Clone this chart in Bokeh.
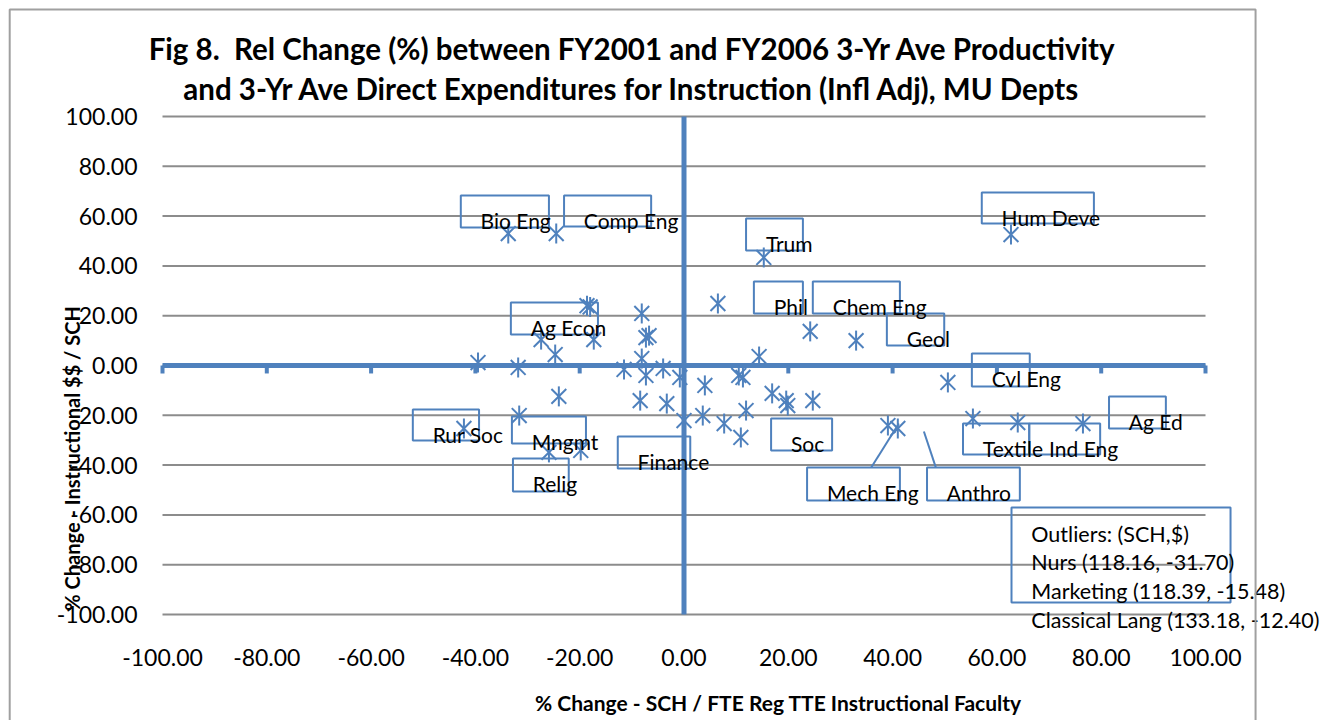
import math
from bokeh.plotting import figure
from bokeh.models import FixedTicker, NumeralTickFormatter, Label, BoxAnnotation, Range1d
from bokeh.embed import file_html
from bokeh.resources import INLINE
from bokeh.core.properties import value

# ---------------- data ----------------
sch_change = [-33.7, -24.5, 15.3, 62.7, -18.6, -18.0, -27.4, -17.3, -24.7, -39.5,
              -31.8, -24.0, -31.6, -42.2, -25.9, -19.8, 6.5, -8.1, -7.3, -6.7,
              -8.1, -11.5, -7.3, -4.0, -0.8, 4.0, 10.5, 11.3, 14.4, -8.4,
              -3.3, 0.0, 3.6, 7.7, 11.9, 10.9, 24.2, 33.0, 16.9, 19.6,
              19.9, 24.7, 50.6, 39.1, 41.0, 55.4, 64.0, 76.5]
dollar_change = [53.0, 53.0, 43.4, 52.6, 24.0, 23.5, 10.4, 10.4, 4.4, 1.2,
                 -0.8, -12.4, -20.1, -25.3, -34.9, -34.1, 24.9, 20.9, 11.2, 12.0,
                 2.8, -1.6, -4.0, -1.2, -4.8, -8.0, -4.0, -4.8, 3.6, -14.1,
                 -15.3, -22.1, -20.1, -23.3, -18.1, -28.9, 13.7, 10.0, -11.2, -14.1,
                 -16.1, -14.1, -6.8, -24.1, -25.3, -21.3, -22.9, -23.3]

label_names = ["Bio Eng", "Comp Eng", "Trum", "Hum Deve", "Phil", "Chem Eng", "Geol",
               "Cvl Eng", "Ag Ed", "Textile", "Ind Eng", "Anthro", "Mech Eng", "Soc",
               "Ag Econ", "Rur Soc", "Mngmt", "Relig", "Finance"]
# callout box layout (data units)
label_left = [-42.8, -23.0, 11.9, 57.1, 13.4, 24.7, 38.9, 55.2, 81.5, 53.5, 66.2, 46.6,
              23.6, 16.7, -33.2, -52.0, -33.0, -32.8, -12.7]
label_right = [-25.9, -6.3, 22.8, 78.6, 22.8, 41.4, 49.9, 66.3, 92.4, 66.2, 79.8, 64.4,
               41.4, 28.4, -16.5, -39.3, -18.8, -22.1, 1.2]
label_top = [68.3, 68.3, 59.0, 69.5, 33.7, 33.7, 20.9, 4.8, -12.4, -23.3, -23.3, -41.0,
             -41.0, -21.3, 25.3, -17.7, -20.5, -37.3, -28.5]
label_bottom = [55.4, 55.8, 46.2, 57.0, 20.9, 20.9, 8.0, -8.4, -25.3, -35.7, -35.7, -54.2,
                -54.2, -34.1, 12.4, -30.1, -31.3, -50.6, -41.4]

leader_x0 = [35.9, 48.3]
leader_y0 = [-41.0, -41.0]
leader_x1 = [41.2, 46.0]
leader_y1 = [-23.3, -26.5]

outlier_lines = ["Outliers: (SCH,$)", "Nurs (118.16, -31.70)",
                 "Marketing (118.39, -15.48)", "Classical Lang (133.18, -12.40)"]

axis_ticks = [-100, -80, -60, -40, -20, 0, 20, 40, 60, 80, 100]

title_lines = ["Fig 8.\u00a0 Rel Change (%) between FY2001 and FY2006 3-Yr Ave Productivity",
               "and 3-Yr Ave Direct Expenditures for Instruction (Infl Adj), MU Depts"]
x_title = "% Change - SCH / FTE Reg TTE Instructional Faculty"
y_title = "% Change - Instructional $$ / SCH"

# ---------------- styles / layout ----------------
BLUE = "#4F81BD"
GRID = "#8C8C8C"
FONT = "Lato"
W, H = 1334, 720
X0PX, XSCALE = 683.5, 5.215     # pixel of x=0, pixels per unit
Y0PX, YSCALE = 365.0, 2.49      # pixel of y=0, pixels per unit

p = figure(width=W, height=H,
           x_range=Range1d(-X0PX / XSCALE, (W - X0PX) / XSCALE),
           y_range=Range1d((Y0PX - H) / YSCALE, Y0PX / YSCALE),
           output_backend="svg", toolbar_location=None,
           min_border_left=0, min_border_right=0, min_border_top=0, min_border_bottom=0)
p.outline_line_color = None
p.background_fill_color = "white"
p.border_fill_color = "white"
p.xgrid.visible = False
p.ygrid.visible = False

lo, hi = axis_ticks[0], axis_ticks[-1]
for ax in (p.xaxis[0], p.yaxis[0]):
    ax.fixed_location = lo
    ax.ticker = FixedTicker(ticks=axis_ticks)
    ax.formatter = NumeralTickFormatter(format="0.00")
    ax.axis_line_color = None
    ax.major_tick_line_color = None
    ax.minor_tick_line_color = None
    ax.major_tick_in = 0
    ax.major_tick_out = 0
    ax.major_label_text_font = FONT
    ax.major_label_text_font_size = "23px"
    ax.major_label_text_color = "black"
p.xaxis.major_label_standoff = 34
p.yaxis.major_label_standoff = 25

# horizontal gridlines
p.segment(x0=[lo] * len(axis_ticks), y0=axis_ticks, x1=[hi] * len(axis_ticks), y1=axis_ticks,
          line_color=GRID, line_width=2)

# blue axes through the origin, with tick marks on the horizontal one
p.segment(x0=[0, lo], y0=[lo, 0], x1=[0, hi], y1=[hi, 0], line_color=BLUE, line_width=5)
p.segment(x0=axis_ticks, y0=[0] * len(axis_ticks), x1=axis_ticks, y1=[-3.2] * len(axis_ticks),
          line_color=BLUE, line_width=4)

# markers (Excel "star": X plus vertical bar)
p.scatter(sch_change, dollar_change, marker="x", size=21, line_color=BLUE, line_width=2)
p.scatter(sch_change, dollar_change, marker="dash", angle=math.pi / 2, size=20,
          line_color=BLUE, line_width=2)

# callouts
p.quad(left=label_left, right=label_right, top=label_top, bottom=label_bottom,
       fill_color=None, line_color=BLUE, line_width=2)
p.text(x=[l + 3.8 for l in label_left], y=[t - 10 for t in label_top], text=label_names,
       text_font=value(FONT), text_font_size="21px", text_color="black",
       text_baseline="middle", text_align="left")
p.segment(x0=leader_x0, y0=leader_y0, x1=leader_x1, y1=leader_y1, line_color=BLUE, line_width=2)

# outliers note
p.add_layout(BoxAnnotation(left=62.8, right=104.8, top=-57.0, bottom=-95.2,
                           fill_color=None, line_color=BLUE, line_width=2, line_alpha=1,
                           line_dash="solid"))
for i, s in enumerate(outlier_lines):
    p.add_layout(Label(x=66.6, y=-67.5 - 11.6 * i, text=s, text_font=FONT,
                       text_font_size="21.5px", text_color="black", text_baseline="middle"))

# chart border
p.add_layout(BoxAnnotation(left=-129.3, right=109.6, top=143.0, bottom=-150,
                           fill_color=None, line_color="#A0A0A0", line_width=2, line_alpha=1,
                           line_dash="solid"))

# titles
for i, s in enumerate(title_lines):
    p.add_layout(Label(x=-9.9, y=127.3 - 16.1 * i, text=s, text_font=FONT,
                       text_font_size="29.5px", text_font_style="bold", text_color="black",
                       text_align="center", text_baseline="middle"))
p.add_layout(Label(x=18.1, y=-135.3, text=x_title, text_font=FONT, text_font_size="21px",
                   text_font_style="bold", text_color="black", text_align="center",
                   text_baseline="middle"))
p.add_layout(Label(x=-117.3, y=-37.3, text=y_title, text_font=FONT, text_font_size="20px",
                   text_font_style="bold", text_color="black", text_align="center",
                   text_baseline="middle", angle=math.pi / 2))

open("out.html", "w").write(file_html(p, INLINE))
